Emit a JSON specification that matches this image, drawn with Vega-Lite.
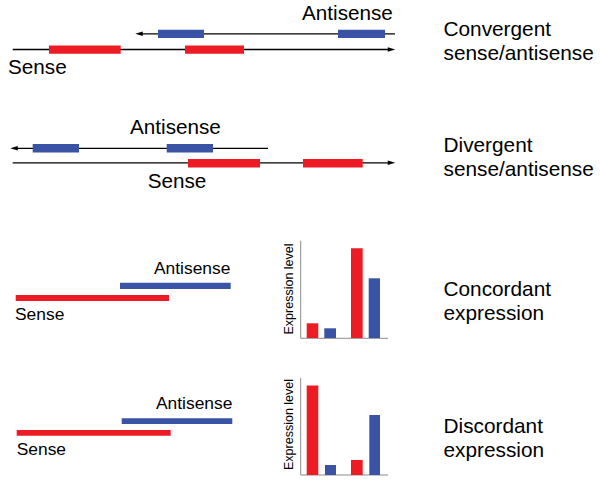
{
  "$schema": "https://vega.github.io/schema/vega-lite/v6.json",
  "width": 600,
  "height": 482,
  "padding": 0,
  "autosize": {"type": "fit", "contains": "padding"},
  "background": "white",
  "config": {"view": {"stroke": null}},
  "datasets": {
    "lines": [
      {"panel": "convergent", "strand": "sense", "x": 12.7, "x2": 391, "y": 49.5},
      {"panel": "convergent", "strand": "antisense", "x": 139, "x2": 395, "y": 33.8},
      {"panel": "divergent", "strand": "antisense", "x": 14, "x2": 268, "y": 148.3},
      {"panel": "divergent", "strand": "sense", "x": 12.7, "x2": 391, "y": 162.8}
    ],
    "arrows": [
      {"panel": "convergent", "dir": "right", "x": 391.5, "y": 49.5},
      {"panel": "convergent", "dir": "left", "x": 139, "y": 33.8},
      {"panel": "divergent", "dir": "left", "x": 14, "y": 148.3},
      {"panel": "divergent", "dir": "right", "x": 391.5, "y": 162.8}
    ],
    "blocks": [
      {"panel": "convergent", "strand": "sense", "x": 49, "x2": 120.7, "y": 45.5, "y2": 53.7},
      {"panel": "convergent", "strand": "sense", "x": 185, "x2": 244, "y": 45.5, "y2": 53.7},
      {"panel": "convergent", "strand": "antisense", "x": 158, "x2": 204, "y": 29.8, "y2": 38},
      {"panel": "convergent", "strand": "antisense", "x": 338, "x2": 385, "y": 29.8, "y2": 38},
      {"panel": "divergent", "strand": "antisense", "x": 32.7, "x2": 79, "y": 144, "y2": 152.5},
      {"panel": "divergent", "strand": "antisense", "x": 166.7, "x2": 213, "y": 144, "y2": 152.5},
      {"panel": "divergent", "strand": "sense", "x": 188, "x2": 260, "y": 159, "y2": 167.5},
      {"panel": "divergent", "strand": "sense", "x": 303, "x2": 362.7, "y": 159, "y2": 167.5},
      {"panel": "concordant", "strand": "antisense", "x": 120, "x2": 230.7, "y": 282.7, "y2": 289},
      {"panel": "concordant", "strand": "sense", "x": 15.7, "x2": 169, "y": 295, "y2": 301},
      {"panel": "discordant", "strand": "antisense", "x": 121.7, "x2": 232.3, "y": 418.3, "y2": 424},
      {"panel": "discordant", "strand": "sense", "x": 16.7, "x2": 170.7, "y": 430, "y2": 435.7}
    ],
    "bars": [
      {"panel": "concordant", "strand": "sense", "x": 306.7, "x2": 318.3, "level": 323.3, "base": 338},
      {"panel": "concordant", "strand": "antisense", "x": 324.3, "x2": 336, "level": 328.3, "base": 338},
      {"panel": "concordant", "strand": "sense", "x": 351, "x2": 362.7, "level": 248.3, "base": 338},
      {"panel": "concordant", "strand": "antisense", "x": 368.7, "x2": 380, "level": 278.3, "base": 338},
      {"panel": "discordant", "strand": "sense", "x": 306.7, "x2": 318.3, "level": 385.5, "base": 475},
      {"panel": "discordant", "strand": "antisense", "x": 325, "x2": 336, "level": 465, "base": 475},
      {"panel": "discordant", "strand": "sense", "x": 351, "x2": 362.7, "level": 460, "base": 475},
      {"panel": "discordant", "strand": "antisense", "x": 369.3, "x2": 380, "level": 415, "base": 475}
    ],
    "axes": [
      {"panel": "concordant", "x": 300.7, "x2": 300.7, "y": 240.7, "y2": 338.3},
      {"panel": "concordant", "x": 300.7, "x2": 388, "y": 338.3, "y2": 338.3},
      {"panel": "discordant", "x": 300.7, "x2": 300.7, "y": 378, "y2": 475},
      {"panel": "discordant", "x": 300.7, "x2": 388, "y": 475, "y2": 475}
    ],
    "labels": [
      {"text": "Antisense", "x": 302, "y": 19.5, "size": 20.7},
      {"text": "Sense", "x": 8, "y": 74, "size": 20.7},
      {"text": "Antisense", "x": 130, "y": 134, "size": 20.7},
      {"text": "Sense", "x": 147.7, "y": 188, "size": 20.7},
      {"text": "Antisense", "x": 154, "y": 274.3, "size": 17.4},
      {"text": "Sense", "x": 15, "y": 320, "size": 17.4},
      {"text": "Antisense", "x": 156, "y": 409.3, "size": 17.4},
      {"text": "Sense", "x": 16.7, "y": 455, "size": 17.4},
      {"text": "Convergent", "x": 443.5, "y": 35.7, "size": 20.8},
      {"text": "sense/antisense", "x": 443.5, "y": 60, "size": 20.8},
      {"text": "Divergent", "x": 443.5, "y": 151.7, "size": 20.8},
      {"text": "sense/antisense", "x": 443.5, "y": 175.5, "size": 20.8},
      {"text": "Concordant", "x": 443.5, "y": 296, "size": 20.8},
      {"text": "expression", "x": 443.5, "y": 320, "size": 20.8},
      {"text": "Discordant", "x": 443.5, "y": 432.7, "size": 20.8},
      {"text": "expression", "x": 443.5, "y": 456.7, "size": 20.8}
    ],
    "axisTitles": [
      {"text": "Expression level", "x": 289, "y": 289},
      {"text": "Expression level", "x": 289, "y": 424.5}
    ]
  },
  "layer": [
    {
      "data": {"name": "axes"},
      "mark": {"type": "rule", "color": "#8c8c8c", "strokeWidth": 1},
      "encoding": {
        "x": {"field": "x", "type": "quantitative", "scale": {"domain": [0, 600]}, "axis": null},
        "x2": {"field": "x2"},
        "y": {"field": "y", "type": "quantitative", "scale": {"domain": [0, 482], "reverse": true}, "axis": null},
        "y2": {"field": "y2"}
      }
    },
    {
      "data": {"name": "lines"},
      "mark": {"type": "rule", "color": "#000000", "strokeWidth": 1.3},
      "encoding": {
        "x": {"field": "x", "type": "quantitative", "scale": {"domain": [0, 600]}, "axis": null},
        "x2": {"field": "x2"},
        "y": {"field": "y", "type": "quantitative", "scale": {"domain": [0, 482], "reverse": true}, "axis": null}
      }
    },
    {
      "data": {"name": "arrows"},
      "mark": {"type": "point", "filled": true, "color": "#000000", "opacity": 1, "strokeWidth": 0, "size": 56},
      "encoding": {
        "x": {"field": "x", "type": "quantitative", "scale": {"domain": [0, 600]}, "axis": null},
        "y": {"field": "y", "type": "quantitative", "scale": {"domain": [0, 482], "reverse": true}, "axis": null},
        "shape": {"field": "dir", "type": "nominal", "scale": {"domain": ["right", "left"], "range": ["M1,0L-1,-0.6L-1,0.6Z", "M-1,0L1,-0.6L1,0.6Z"]}, "legend": null}
      }
    },
    {
      "data": {"name": "blocks"},
      "mark": {"type": "rect"},
      "encoding": {
        "x": {"field": "x", "type": "quantitative", "scale": {"domain": [0, 600]}, "axis": null},
        "x2": {"field": "x2"},
        "y": {"field": "y", "type": "quantitative", "scale": {"domain": [0, 482], "reverse": true}, "axis": null},
        "y2": {"field": "y2"},
        "color": {"field": "strand", "type": "nominal", "scale": {"domain": ["sense", "antisense"], "range": ["#ED1C24", "#3A53A4"]}, "legend": null}
      }
    },
    {
      "data": {"name": "bars"},
      "mark": {"type": "rect"},
      "encoding": {
        "x": {"field": "x", "type": "quantitative", "scale": {"domain": [0, 600]}, "axis": null},
        "x2": {"field": "x2"},
        "y": {"field": "level", "type": "quantitative", "scale": {"domain": [0, 482], "reverse": true}, "axis": null},
        "y2": {"field": "base"},
        "color": {"field": "strand", "type": "nominal", "scale": {"domain": ["sense", "antisense"], "range": ["#ED1C24", "#3A53A4"]}, "legend": null}
      }
    },
    {
      "data": {"name": "labels"},
      "mark": {"type": "text", "align": "left", "baseline": "alphabetic", "font": "Liberation Sans", "color": "#000000"},
      "encoding": {
        "x": {"field": "x", "type": "quantitative", "scale": {"domain": [0, 600]}, "axis": null},
        "y": {"field": "y", "type": "quantitative", "scale": {"domain": [0, 482], "reverse": true}, "axis": null},
        "text": {"field": "text"},
        "size": {"field": "size", "type": "quantitative", "scale": null, "legend": null}
      }
    },
    {
      "data": {"name": "axisTitles"},
      "mark": {"type": "text", "align": "center", "baseline": "middle", "angle": 270, "fontSize": 12.5, "font": "Liberation Sans", "color": "#000000"},
      "encoding": {
        "x": {"field": "x", "type": "quantitative", "scale": {"domain": [0, 600]}, "axis": null},
        "y": {"field": "y", "type": "quantitative", "scale": {"domain": [0, 482], "reverse": true}, "axis": null},
        "text": {"field": "text"}
      }
    }
  ]
}
